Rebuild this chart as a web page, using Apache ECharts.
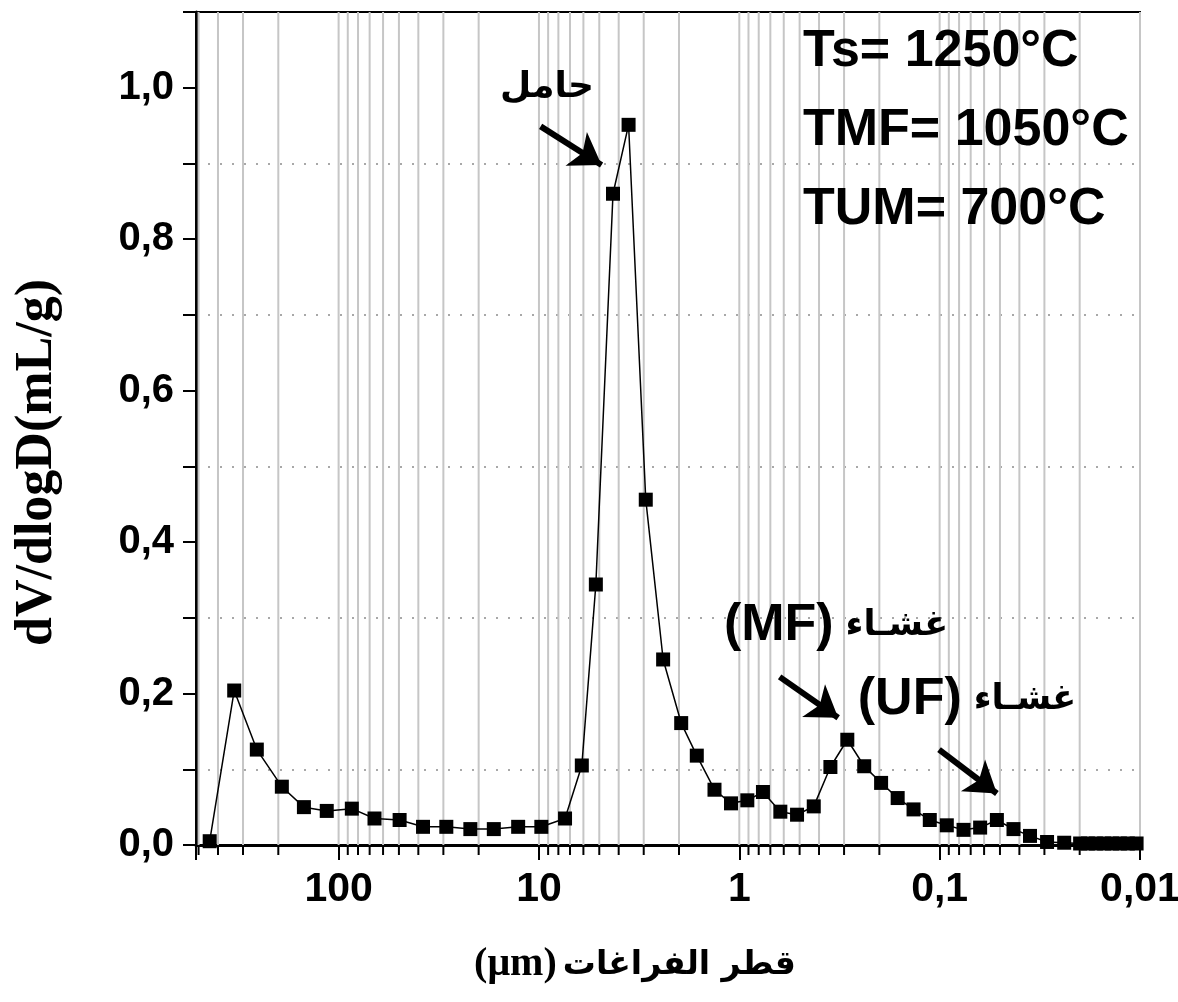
<!DOCTYPE html>
<html>
<head>
<meta charset="utf-8">
<script src="https://cdn.jsdelivr.net/npm/echarts@6/dist/echarts.min.js"></script>
<style>
  html, body { margin: 0; padding: 0; background: #fff; }
  #chart { width: 1178px; height: 1002px; }
</style>
</head>
<body>
<div id="chart"></div>
<script>
// Pore diameter (µm) and differential intruded volume dV/dlogD (mL/g)
const poreDiameter = [440, 332, 256, 192, 149, 114.6, 85.9, 66.2, 49.6, 37.9,
  29.0, 22.0, 16.8, 12.7, 9.73, 7.41, 6.11, 5.20, 4.27, 3.57,
  2.93, 2.40, 1.95, 1.63, 1.33, 1.10, 0.912, 0.762, 0.624, 0.515,
  0.425, 0.351, 0.289, 0.238, 0.196, 0.162, 0.135, 0.112, 0.0921, 0.0760,
  0.0628, 0.0518, 0.0428, 0.0354, 0.0291, 0.0239, 0.0199, 0.0182, 0.0166, 0.0151,
  0.0138, 0.0126, 0.0115, 0.0104];
const dVdlogD = [0.005, 0.204, 0.126, 0.077, 0.050, 0.045, 0.048, 0.035, 0.033, 0.024,
  0.024, 0.021, 0.021, 0.024, 0.024, 0.035, 0.105, 0.344, 0.860, 0.951,
  0.456, 0.245, 0.161, 0.118, 0.073, 0.055, 0.059, 0.070, 0.044, 0.040,
  0.051, 0.103, 0.139, 0.104, 0.082, 0.062, 0.047, 0.033, 0.026, 0.020,
  0.023, 0.033, 0.021, 0.012, 0.004, 0.003, 0.002, 0.002, 0.002, 0.002,
  0.002, 0.002, 0.002, 0.002];

// Log-axis decades with their labels, and the in-between (2..9) positions
const xMajorTicks = [0.01, 0.1, 1, 10, 100];
const xMajorLabels = ['0,01', '0,1', '1', '10', '100'];
const xMinorTicks = [0.02, 0.03, 0.04, 0.05, 0.06, 0.07, 0.08, 0.09,
  0.2, 0.3, 0.4, 0.5, 0.6, 0.7, 0.8, 0.9,
  2, 3, 4, 5, 6, 7, 8, 9,
  20, 30, 40, 50, 60, 70, 80, 90,
  200, 300, 400, 500];

// Annotation arrows: [from, to] in (diameter, dV/dlogD)
const arrowSupport = [[9.81, 0.949], [4.87, 0.898]];
const arrowMF = [[0.629, 0.222], [0.321, 0.168]];
const arrowUF = [[0.1007, 0.126], [0.0518, 0.068]];

const SANS = '"Liberation Sans", Arial, sans-serif';
const ARABIC = '"DejaVu Sans", "Noto Sans", sans-serif';
const SERIF = '"Liberation Serif", "Times New Roman", serif';

function isDecade(v) {
  const l = Math.log10(v);
  return Math.abs(l - Math.round(l)) < 1e-6;
}

const chart = echarts.init(document.getElementById('chart'), null, { renderer: 'canvas' });

const option = {
  animation: false,
  backgroundColor: '#fff',
  grid: {
    left: 196, right: 38, top: 12, bottom: 157,
    outerBoundsMode: 'none',
    containLabel: false,
    show: true, borderColor: '#000', borderWidth: 2, backgroundColor: '#fff'
  },
  xAxis: {
    type: 'log',
    logBase: 10,
    min: 0.01,
    max: 515,
    inverse: true,
    axisLine: { show: true, onZero: false, lineStyle: { color: '#000', width: 3 } },
    axisTick: { show: true, inside: false, length: 15, lineStyle: { color: '#000', width: 2 } },
    axisLabel: {
      margin: 24,
      color: '#000',
      fontFamily: SANS,
      fontWeight: 'bold',
      fontSize: 41,
      formatter: function (v) {
        if (!isDecade(v)) return '';
        const idx = xMajorTicks.findIndex(t => Math.abs(Math.log10(t) - Math.log10(v)) < 1e-6);
        return idx >= 0 ? xMajorLabels[idx] : '';
      }
    },
    splitLine: { show: false },
    name: '{u|(μm)}{a|قطر الفراغات}',
    nameLocation: 'middle',
    nameGap: 100,
    nameTextStyle: {
      color: '#000',
      padding: [0, 66, 0, 0],
      rich: {
        u: { fontFamily: SERIF, fontWeight: 'bold', fontSize: 40, color: '#000' },
        a: { fontFamily: ARABIC, fontWeight: 'bold', fontSize: 33, color: '#000', padding: [0, 0, 0, 6] }
      }
    }
  },
  yAxis: {
    type: 'value',
    min: 0,
    max: 1.1,
    interval: 0.1,
    axisLine: { show: true, lineStyle: { color: '#000', width: 3 } },
    axisTick: { show: true, inside: false, length: 13, lineStyle: { color: '#000', width: 2 } },
    axisLabel: {
      margin: 22,
      color: '#000',
      fontFamily: SANS,
      fontWeight: 'bold',
      fontSize: 40,
      formatter: function (v) {
        const k = Math.round(v * 10);
        if (k % 2 !== 0 || k > 10) return '';
        return (k / 10).toFixed(1).replace('.', ',');
      }
    },
    splitLine: {
      show: true,
      showMaxLine: false,
      lineStyle: { color: ['rgba(0,0,0,0)', '#a8a8a8'], type: [2, 10], width: 2 }
    },
    name: 'dV/dlogD(mL/g)',
    nameLocation: 'middle',
    nameRotate: 90,
    nameGap: 132,
    nameTextStyle: {
      color: '#000',
      fontFamily: SERIF,
      fontWeight: 'bold',
      fontSize: 52,
      padding: [0, 68, 0, 0]
    }
  },
  graphic: [
    { type: 'text', x: 803, y: 52, z: 100,
      style: { text: 'Ts= 1250°C', fill: '#000', font: 'bold 52px ' + SANS, verticalAlign: 'middle' } },
    { type: 'text', x: 803, y: 131, z: 100,
      style: { text: 'TMF= 1050°C', fill: '#000', font: 'bold 52px ' + SANS, verticalAlign: 'middle' } },
    { type: 'text', x: 803, y: 210, z: 100,
      style: { text: 'TUM= 700°C', fill: '#000', font: 'bold 52px ' + SANS, verticalAlign: 'middle' } },
    { type: 'text', x: 547, y: 88, z: 100,
      style: { text: 'حامل', fill: '#000', font: 'bold 36px ' + ARABIC, align: 'center', verticalAlign: 'middle' } },
    { type: 'text', x: 836, y: 626, z: 100,
      style: {
        text: '{l|(MF)}{a|غشـاء}', align: 'center', verticalAlign: 'middle',
        rich: {
          l: { font: 'bold 52px ' + SANS, fill: '#000' },
          a: { font: 'bold 35px ' + ARABIC, fill: '#000', padding: [0, 0, 0, 12] }
        }
      } },
    { type: 'text', x: 967, y: 700, z: 100,
      style: {
        text: '{l|(UF)}{a|غشـاء}', align: 'center', verticalAlign: 'middle',
        rich: {
          l: { font: 'bold 52px ' + SANS, fill: '#000' },
          a: { font: 'bold 35px ' + ARABIC, fill: '#000', padding: [0, 0, 0, 12] }
        }
      } }
  ],
  series: [
    {
      // vertical log grid lines plus the short 2..9 ticks below the x axis
      type: 'custom',
      silent: true,
      clip: false,
      z: 1,
      encode: { x: 0, y: 1 },
      data: xMajorTicks.concat(xMinorTicks).map(v => [v, 0]),
      renderItem: function (params, api) {
        const v = api.value(0);
        const bottom = api.coord([v, 0]);
        const top = api.coord([v, 1.1]);
        const children = [{
          type: 'line',
          shape: { x1: bottom[0], y1: top[1], x2: bottom[0], y2: bottom[1] },
          style: { stroke: '#c6c6c6', lineWidth: 2 }
        }];
        if (!isDecade(v)) {
          children.push({
            type: 'line',
            shape: { x1: bottom[0], y1: bottom[1], x2: bottom[0], y2: bottom[1] + 10 },
            style: { stroke: '#000', lineWidth: 2 }
          });
        }
        return { type: 'group', children: children };
      }
    },
    {
      type: 'line',
      z: 3,
      data: poreDiameter.map((d, i) => [d, dVdlogD[i]]),
      symbol: 'rect',
      symbolSize: 14,
      showAllSymbol: true,
      itemStyle: { color: '#000' },
      lineStyle: { color: '#000', width: 1.5 },
      markLine: {
        silent: true,
        symbol: ['none', 'arrow'],
        symbolSize: 30,
        label: { show: false },
        lineStyle: { color: '#000', width: 6, type: 'solid' },
        data: [
          [{ coord: arrowSupport[0] }, { coord: arrowSupport[1] }],
          [{ coord: arrowMF[0] }, { coord: arrowMF[1] }],
          [{ coord: arrowUF[0] }, { coord: arrowUF[1] }]
        ]
      }
    }
  ]
};

chart.setOption(option);
</script>
</body>
</html>
